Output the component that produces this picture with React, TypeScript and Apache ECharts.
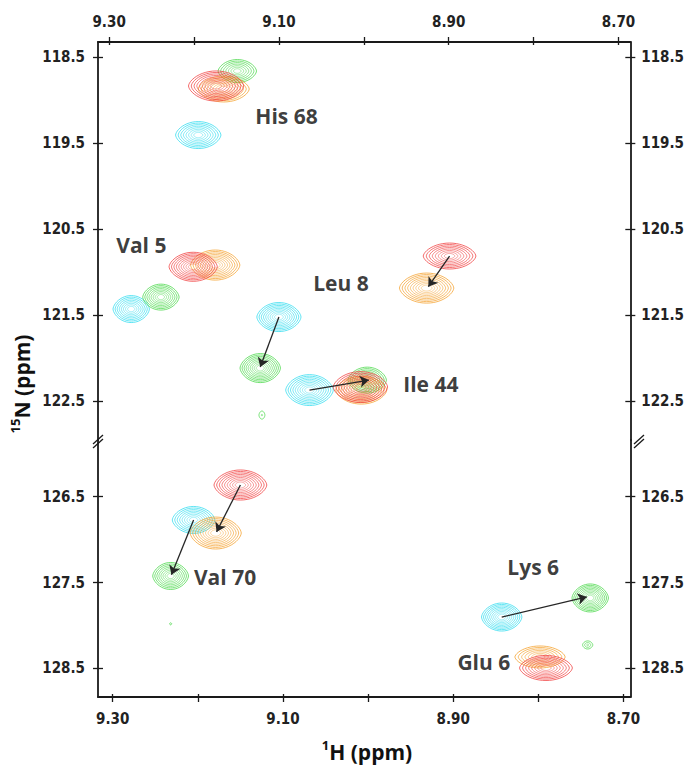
import React, { useEffect, useRef } from 'react';
import * as echarts from 'echarts';

// ---------- axis ticks ----------
const hTicks = [9.3, 9.2, 9.1, 9.0, 8.9, 8.8, 8.7];
const hLabels = [9.3, 9.1, 8.9, 8.7];
const nTicksUpper = [118.5, 119.5, 120.5, 121.5, 122.5];
const nTicksLower = [126.5, 127.5, 128.5];

// axis ranges (ppm)
const upperH = [8.6861, 9.3131];
const lowerH = [8.6919, 9.3173];
const upperN = [118.322, 122.954];
const lowerN = [125.84, 128.832];
const breakN = 124;

// ---------- peaks: [1H ppm, 15N ppm, half linewidth 1H ppm, half linewidth 15N ppm] ----------
const cyanPeaks = [
  [9.195, 119.405, 0.0267, 0.157], // His 68
  [9.274, 121.43, 0.0214, 0.157], // Val 5
  [9.1, 121.523, 0.026, 0.169], // Leu 8
  [9.064, 122.373, 0.028, 0.18], // Ile 44
  [9.205, 126.771, 0.025, 0.157], // Val 70
  [8.843, 127.901, 0.0237, 0.163], // Lys 6
];
const greenPeaks = [
  [9.149, 118.66, 0.0226, 0.134], // His 68
  [9.239, 121.291, 0.0214, 0.151], // Val 5
  [9.122, 122.117, 0.0238, 0.169], // Leu 8
  [8.996, 122.257, 0.0226, 0.151], // Ile 44
  [9.12, 122.664, 0.0035, 0.047], // noise
  [9.232, 127.423, 0.021, 0.157], // Val 70
  [9.232, 127.98, 0.0012, 0.012], // noise
  [8.739, 127.679, 0.0214, 0.163], // Lys 6
  [8.742, 128.226, 0.006, 0.047], // noise
];
const redPeaks = [
  [9.174, 118.834, 0.0325, 0.175], // His 68
  [9.201, 120.938, 0.0284, 0.169], // Val 5
  [8.899, 120.813, 0.031, 0.151], // Leu 8
  [9.004, 122.338, 0.032, 0.18], // Ile 44
  [9.15, 126.364, 0.031, 0.175], // Val 70
  [8.791, 128.494, 0.031, 0.146], // Glu 6
];
const orangePeaks = [
  [9.165, 118.869, 0.03, 0.151], // His 68
  [9.175, 120.918, 0.029, 0.175], // Val 5
  [8.926, 121.186, 0.032, 0.175], // Leu 8
  [9.003, 122.373, 0.03, 0.163], // Ile 44
  [9.179, 126.923, 0.03, 0.186], // Val 70
  [8.798, 128.366, 0.0295, 0.128], // Glu 6
];

// chemical shift arrows: [H from, N from, H to, N to]
const shiftArrows = [
  [9.1, 121.523, 9.122, 122.105], // Leu 8
  [8.899, 120.813, 8.924, 121.17], // Leu 8
  [9.064, 122.373, 8.994, 122.257], // Ile 44
  [9.15, 126.364, 9.178, 126.91], // Val 70
  [9.205, 126.771, 9.231, 127.41], // Val 70
  [8.843, 127.901, 8.743, 127.667], // Lys 6
];

const residueLabels = ['His 68', 'Val 5', 'Leu 8', 'Ile 44', 'Val 70', 'Lys 6', 'Glu 6'];
const labelH = [9.091, 9.262, 9.027, 8.921, 9.168, 8.806, 8.864];
const labelN = [119.184, 120.685, 121.128, 122.303, 127.435, 127.318, 128.424];

// ---------- styles ----------
const FRAME = '#1a1a1a';
const TICK_FONT = "'Liberation Sans Narrow', 'Arial Narrow', 'DejaVu Sans Condensed', sans-serif";
const LABEL_FONT = "'Open Sans', Lato, sans-serif";
const COLORS = { cyan: '#2fdcef', green: '#48d848', red: '#f03c3c', orange: '#f4a02c' };

function lensPoints(cx: number, cy: number, a: number, b: number) {
  const pts: number[][] = [];
  const n = 48;
  for (let i = 0; i < n; i++) {
    const t = (i / n) * Math.PI * 2;
    const c = Math.cos(t);
    const s = Math.sin(t);
    pts.push([cx + a * c, cy + b * Math.sign(s) * Math.pow(Math.abs(s), 1.25)]);
  }
  return pts;
}

function inGrid(p: number[], g: number) {
  return g === 0 ? p[1] < breakN : p[1] >= breakN;
}

function peakSeries(peaks: number[][], color: string, g: number, z: number) {
  return {
    type: 'custom',
    coordinateSystem: 'cartesian2d',
    xAxisIndex: g === 0 ? 0 : 2,
    yAxisIndex: g === 0 ? 0 : 4,
    data: peaks.filter((p) => inGrid(p, g)),
    encode: { x: 0, y: 1 },
    silent: true,
    z,
    renderItem: (params: any, api: any) => {
      const c = api.coord([api.value(0), api.value(1)]);
      const s = api.size([api.value(2), api.value(3)]);
      const a = Math.abs(s[0]);
      const b = Math.abs(s[1]);
      const levels = Math.max(1, Math.min(9, Math.round(Math.min(a, b) / 1.6)));
      const children: any[] = [];
      for (let k = 0; k < levels; k++) {
        const f = levels === 1 ? 1 : 1 - (k / (levels - 1)) * 0.8;
        children.push({
          type: 'polygon',
          shape: { points: lensPoints(c[0], c[1], a * f, b * f) },
          style: {
            fill: 'none',
            stroke: color,
            lineWidth: 0.9,
            opacity: levels === 1 ? 0.85 : 0.85 - (0.4 * k) / levels,
          },
        });
      }
      return { type: 'group', children };
    },
  };
}

function arrowSeries(g: number) {
  return {
    type: 'lines',
    coordinateSystem: 'cartesian2d',
    xAxisIndex: g === 0 ? 0 : 2,
    yAxisIndex: g === 0 ? 0 : 4,
    silent: true,
    z: 10,
    symbol: ['none', 'arrow'],
    symbolSize: 9,
    lineStyle: { color: '#262626', width: 1.3, opacity: 1, curveness: 0 },
    data: shiftArrows
      .filter((a) => inGrid(a, g))
      .map((a) => ({ coords: [[a[0], a[1]], [a[2], a[3]]] })),
  };
}

function labelSeries(g: number) {
  const data: any[] = [];
  residueLabels.forEach((t, i) => {
    if (inGrid([labelH[i], labelN[i]], g)) data.push({ name: t, value: [labelH[i], labelN[i]] });
  });
  return {
    type: 'scatter',
    xAxisIndex: g === 0 ? 0 : 2,
    yAxisIndex: g === 0 ? 0 : 4,
    silent: true,
    z: 20,
    symbol: 'circle',
    symbolSize: 1,
    itemStyle: { color: 'rgba(0,0,0,0)' },
    label: {
      show: true,
      position: 'inside',
      formatter: '{b}',
      color: '#0a0a0a',
      fontFamily: LABEL_FONT,
      fontWeight: 'bold',
      fontSize: 21,
    },
    data,
  };
}

function hAxis(g: number, pos: 'top' | 'bottom', range: number[], twin: boolean) {
  return {
    type: 'value',
    gridIndex: g,
    position: pos,
    min: range[0],
    max: range[1],
    inverse: true,
    axisLine: { show: !twin, onZero: false, lineStyle: { color: FRAME, width: 1.8 } },
    axisTick: {
      show: true,
      inside: twin,
      length: twin ? 3 : 5,
      customValues: hTicks,
      lineStyle: { color: FRAME, width: 1.3 },
    },
    axisLabel: {
      show: !twin,
      customValues: hLabels,
      formatter: (v: number) => v.toFixed(2),
      margin: pos === 'top' ? 13 : 14,
      fontFamily: TICK_FONT,
      fontWeight: 'bold',
      fontSize: 15,
      color: '#222',
    },
    splitLine: { show: false },
  };
}

function nAxis(g: number, pos: 'left' | 'right', range: number[], ticks: number[], twin: boolean) {
  return {
    type: 'value',
    gridIndex: g,
    position: pos,
    min: range[0],
    max: range[1],
    inverse: true,
    axisLine: { show: !twin, onZero: false, lineStyle: { color: FRAME, width: 1.8 } },
    axisTick: {
      show: true,
      inside: twin,
      length: 5,
      customValues: ticks,
      lineStyle: { color: FRAME, width: 1.3 },
    },
    axisLabel: {
      show: !twin,
      customValues: ticks,
      formatter: (v: number) => v.toFixed(1),
      margin: pos === 'left' ? 13 : 11,
      fontFamily: TICK_FONT,
      fontWeight: 'bold',
      fontSize: 15,
      color: '#222',
    },
    splitLine: { show: false },
  };
}

function breakMark(x: number, y: number) {
  const ls = { stroke: FRAME, lineWidth: 1.3 };
  return [
    { type: 'line', shape: { x1: x - 5, y1: y + 3, x2: x + 5, y2: y - 6 }, style: ls, z: 50 },
    { type: 'line', shape: { x1: x - 5, y1: y + 7, x2: x + 5, y2: y - 2 }, style: ls, z: 50 },
  ];
}

export default function App() {
  const ref = useRef<HTMLDivElement>(null);
  useEffect(() => {
    if (!ref.current) return;
    const chart = echarts.init(ref.current, undefined, { renderer: 'svg' });
    const titleRich = {
      s: { fontSize: 13, fontFamily: LABEL_FONT, fontWeight: 'bold', fill: '#111', verticalAlign: 'top', lineHeight: 14 },
      m: { fontSize: 21, fontFamily: LABEL_FONT, fontWeight: 'bold', fill: '#111', lineHeight: 28 },
    };
    const option: any = {
      animation: false,
      backgroundColor: '#ffffff',
      grid: [
        { left: 98, top: 42, width: 541, height: 398 },
        { left: 98, top: 440, width: 541, height: 257 },
      ],
      xAxis: [
        hAxis(0, 'top', upperH, false),
        hAxis(0, 'top', upperH, true),
        hAxis(1, 'bottom', lowerH, false),
        hAxis(1, 'bottom', lowerH, true),
      ],
      yAxis: [
        nAxis(0, 'left', upperN, nTicksUpper, false),
        nAxis(0, 'right', upperN, nTicksUpper, false),
        nAxis(0, 'left', upperN, nTicksUpper, true),
        nAxis(0, 'right', upperN, nTicksUpper, true),
        nAxis(1, 'left', lowerN, nTicksLower, false),
        nAxis(1, 'right', lowerN, nTicksLower, false),
        nAxis(1, 'left', lowerN, nTicksLower, true),
        nAxis(1, 'right', lowerN, nTicksLower, true),
      ],
      series: [
        peakSeries(cyanPeaks, COLORS.cyan, 0, 2),
        peakSeries(greenPeaks, COLORS.green, 0, 3),
        peakSeries(orangePeaks, COLORS.orange, 0, 4),
        peakSeries(redPeaks, COLORS.red, 0, 5),
        peakSeries(cyanPeaks, COLORS.cyan, 1, 2),
        peakSeries(greenPeaks, COLORS.green, 1, 3),
        peakSeries(orangePeaks, COLORS.orange, 1, 4),
        peakSeries(redPeaks, COLORS.red, 1, 5),
        arrowSeries(0),
        arrowSeries(1),
        labelSeries(0),
        labelSeries(1),
      ],
      graphic: [
        {
          type: 'text',
          x: 367,
          y: 752,
          style: { text: '{s|1}{m|H (ppm)}', rich: titleRich, align: 'center', verticalAlign: 'middle' },
        },
        {
          type: 'text',
          x: 22,
          y: 384,
          rotation: Math.PI / 2,
          style: { text: '{s|15}{m|N (ppm)}', rich: titleRich, align: 'center', verticalAlign: 'middle' },
        },
        ...breakMark(98, 441),
        ...breakMark(639, 441),
      ],
    };
    chart.setOption(option);
    return () => chart.dispose();
  }, []);
  return (
    <div
      ref={ref}
      style={{ position: 'fixed', left: 0, top: 0, width: 687, height: 765, background: '#fff' }}
    />
  );
}
